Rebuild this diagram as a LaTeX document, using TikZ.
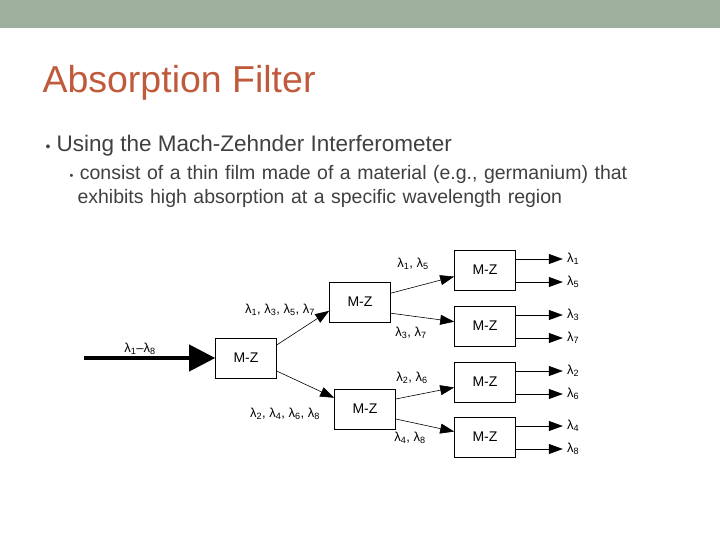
\documentclass[tikz,border=0pt]{standalone}
\usepackage{fontspec}
\setmainfont{Liberation Sans}
\usetikzlibrary{arrows.meta,positioning,calc}
\newcommand{\lam}[1]{λ\textsubscript{#1}}

\begin{document}
\begin{tikzpicture}[
  x=1pt, y=-1pt,
  mz/.style={draw, line width=0.6pt, minimum width=61pt, minimum height=40pt, inner sep=0pt, font=\fontsize{14}{16}\selectfont},
  arr/.style={-{Triangle[length=14pt,width=10pt]}, line width=0.6pt},
  lbl/.style={font=\fontsize{13}{15}\selectfont, inner sep=1pt}
]
\useasboundingbox (0,0) rectangle (720,540);
\fill[white] (0,0) rectangle (720,540);
\fill[green!10!gray!70] (0,0) rectangle (720,28);

% Title and bullets
\definecolor{titlered}{RGB}{192,90,60}
\node[anchor=west, text=titlered, font=\fontsize{37.5}{42}\selectfont] (title) at (39,83) {Absorption Filter};
\node[anchor=west, text=black!75, font=\fontsize{22.5}{26}\selectfont] (b1txt) at (42,146) {{\fontsize{14}{14}\selectfont\textbullet}\ Using the Mach-Zehnder Interferometer};
\node[anchor=north west, text=black!75, align=left, font=\fontsize{19.5}{24}\selectfont, text width=650pt] (b2txt) at (66,162)
  {{\fontsize{11}{11}\selectfont\textbullet}\ consist of a thin film made of a material (e.g., germanium) that\\
  \hspace*{8pt}exhibits high absorption at a specific wavelength region};

% Boxes
\node[mz] (s1) at (246,358) {M-Z};
\node[mz] (s2a) at (360,302) {M-Z};
\node[mz] (s2b) at (365,409) {M-Z};
\node[mz] (o1) at (485,270) {M-Z};
\node[mz] (o2) at (485,326) {M-Z};
\node[mz] (o3) at (485,382) {M-Z};
\node[mz] (o4) at (485,437) {M-Z};

% Input
\coordinate (in) at (84,358);
\draw[-{Triangle[length=26pt,width=26pt]}, line width=4pt] (in) -- (s1.west);
\node[lbl] (inlbl) at (140,349) {\lam{1}–\lam{8}};

% Splits
\draw[arr] (s1.23) -- (s2a.196);
\draw[arr] (s1.-23) -- (s2b.160);
\draw[arr] (s2a.16) -- (o1.192);
\draw[arr] (s2a.-20) -- (o2.172);
\draw[arr] (s2b.18) -- (o3.190);
\draw[arr] (s2b.-18) -- (o4.170);
\node[lbl] (l1) at (280,310) {\lam{1}, \lam{3}, \lam{5}, \lam{7}};
\node[lbl] (l2) at (285,414) {\lam{2}, \lam{4}, \lam{6}, \lam{8}};
\node[lbl] (l3) at (413,264) {\lam{1}, \lam{5}};
\node[lbl] (l4) at (411,333) {\lam{3}, \lam{7}};
\node[lbl] (l5) at (412,378) {\lam{2}, \lam{6}};
\node[lbl] (l6) at (410,438) {\lam{4}, \lam{8}};

% Outputs
\foreach \b/\u/\d in {o1/1/5, o2/3/7, o3/2/6, o4/4/8} {
  \coordinate (\b u) at ($(\b.east)+(47,-11)$);
  \coordinate (\b d) at ($(\b.east)+(47,12)$);
  \draw[arr] (\b.east |- \b u) -- (\b u);
  \draw[arr] (\b.east |- \b d) -- (\b d);
  \node[lbl, right=3pt of \b u] {\lam{\u}};
  \node[lbl, right=3pt of \b d] {\lam{\d}};
}
\end{tikzpicture}
\end{document}
